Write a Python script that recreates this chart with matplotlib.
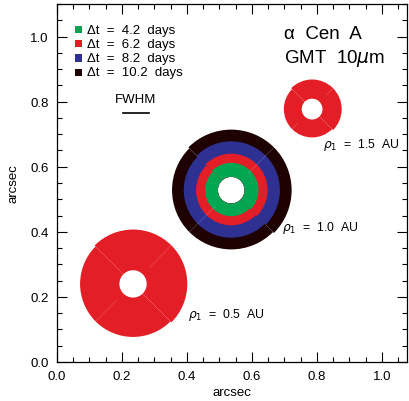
import matplotlib
matplotlib.use("Agg")
import matplotlib.pyplot as plt
from matplotlib.patches import Wedge, Rectangle
from matplotlib.ticker import MultipleLocator

plt.rcParams['font.family'] = ['Liberation Sans', 'DejaVu Sans']
plt.rcParams['mathtext.fontset'] = 'dejavusans'

# legend entries (time steps) and their colours
dt_labels = ["4.2", "6.2", "8.2", "10.2"]
dt_colors = ["#00A651", "#E31E26", "#2E3192", "#1E0202"]

# ring groups: centre (arcsec), inner radius, outer radius per time step
rho_labels = ["0.5", "1.0", "1.5"]
ring_x = [0.234, 0.536, 0.785]
ring_y = [0.240, 0.528, 0.777]
ring_rin = [0.042, 0.041, 0.032]
# outer radii for each dt (None = not drawn)
ring_rout = [
    [None, 0.163, None, None],
    [0.080, 0.108, 0.146, 0.182],
    [None, 0.087, None, None],
]
label_x = [0.403, 0.692, 0.818]
label_y = [0.148, 0.415, 0.670]

fwhm = 0.082

fig = plt.figure(figsize=(4.10, 4.02), dpi=100)
ax = fig.add_axes([57 / 410, 39 / 402, 350 / 410, 358 / 402])

for g in range(len(ring_x)):
    cx, cy, rin = ring_x[g], ring_y[g], ring_rin[g]
    # draw from the outermost ring inward
    for k in reversed(range(len(dt_colors))):
        rout = ring_rout[g][k]
        if rout is None:
            continue
        c = dt_colors[k]
        # two halves with a small mismatch, like the stitched simulation
        ax.add_patch(Wedge((cx, cy), rout + 0.004, -45, 135, width=rout + 0.004 - rin,
                           facecolor=c, edgecolor='none'))
        ax.add_patch(Wedge((cx, cy), rout, 135, 315, width=rout - rin,
                           facecolor=c, edgecolor='none'))
    # faint seam along the diagonal
    rmax = max(r for r in ring_rout[g] if r is not None) + 0.004
    for s in (1, -1):
        ax.plot([cx + s * (rin + 0.03) * 0.707, cx + s * rmax * 0.707],
                [cy + s * (rin + 0.03) * 0.707, cy + s * rmax * 0.707],
                color='white', alpha=0.18, lw=0.6)
    ax.text(label_x[g], label_y[g], r'$\rho_1$  =  ' + rho_labels[g] + '  AU',
            fontsize=8.8, va='center', ha='left')

# legend
for i, (lab, c) in enumerate(zip(dt_labels, dt_colors)):
    yy = 1.021 - i * 0.0435
    ax.add_patch(Rectangle((0.0555, yy - 0.011), 0.022, 0.022, facecolor=c, edgecolor='none'))
    ax.text(0.092, yy, '\u0394t  =  ' + lab + '  days', fontsize=9.5, va='center', ha='left')

ax.text(0.70, 1.01, '\u03b1  Cen  A', fontsize=13.5, va='center', ha='left')
ax.text(0.70, 0.935, 'GMT  10$\\mu$m', fontsize=13.5, va='center', ha='left')

# FWHM bar
ax.plot([0.202, 0.202 + fwhm], [0.765, 0.765], color='black', lw=1.2)
ax.text(0.243, 0.809, 'FWHM', fontsize=9.5, va='center', ha='center')

ax.set_xlim(0, 1.077)
ax.set_ylim(0, 1.10)
ax.xaxis.set_major_locator(MultipleLocator(0.2))
ax.xaxis.set_minor_locator(MultipleLocator(0.05))
ax.yaxis.set_major_locator(MultipleLocator(0.2))
ax.yaxis.set_minor_locator(MultipleLocator(0.05))
ax.xaxis.set_major_formatter(matplotlib.ticker.FormatStrFormatter('%.1f'))
ax.yaxis.set_major_formatter(matplotlib.ticker.FormatStrFormatter('%.1f'))
ax.tick_params(which='both', direction='in', top=True, right=True, labelsize=9.5, width=0.8)
ax.tick_params(which='major', length=7, pad=6)
ax.tick_params(which='minor', length=3.5)
for sp in ax.spines.values():
    sp.set_linewidth(0.9)

ax.set_xlabel('arcsec', fontsize=9.5, labelpad=3)
ax.set_ylabel('arcsec', fontsize=9.5, labelpad=8)

fig.savefig('out.png', dpi=100)
